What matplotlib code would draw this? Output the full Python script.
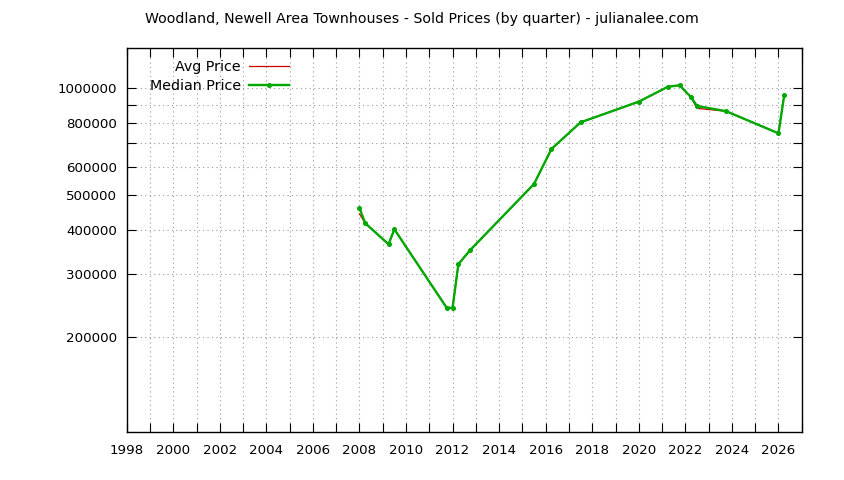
import matplotlib
matplotlib.use("Agg")
import matplotlib.pyplot as plt
from matplotlib.ticker import FixedLocator, NullFormatter, FuncFormatter

# quarterly sold prices
quarters = [2008.0, 2008.25, 2009.25, 2009.5, 2011.75, 2012.0, 2012.25, 2012.75,
            2015.5, 2016.25, 2017.5, 2020.0, 2021.25, 2021.75, 2022.25, 2022.5,
            2023.75, 2026.0, 2026.25]
median_price = [460000, 417000, 364000, 401000, 241000, 241000, 320000, 350000,
                538000, 675000, 802000, 917000, 1010000, 1020000, 943000, 892000,
                862000, 747000, 957000]
avg_price = [443000, 417000, 364000, 401000, 241000, 241000, 320000, 350000,
             538000, 675000, 802000, 917000, 1010000, 1020000, 943000, 878000,
             862000, 747000, 957000]

year_ticks = list(range(1998, 2027, 2))
year_minor = list(range(1999, 2028, 2))
price_ticks = [200000, 300000, 400000, 500000, 600000, 800000, 1000000]
price_minor = [700000, 900000]

title = "Woodland, Newell Area Townhouses - Sold Prices (by quarter) - julianalee.com"

plt.rcParams['font.family'] = ['DejaVu Sans']
plt.rcParams['font.size'] = 9.6

fig = plt.figure(figsize=(8.44, 4.8), dpi=100)
ax = fig.add_axes([0.1501, 0.1006, 0.7998, 0.7988])

ax.plot(quarters, avg_price, color='#cc0000', linewidth=0.9, label='Avg Price', zorder=3)
ax.plot(quarters, median_price, color='#00a800', linewidth=1.7, marker='o',
        markersize=2.6, label='Median Price', zorder=4)

ax.set_yscale('log')
ax.set_xlim(1998, 2027)
ax.set_ylim(108000, 1296000)

ax.xaxis.set_major_locator(FixedLocator(year_ticks))
ax.xaxis.set_minor_locator(FixedLocator(year_minor))
ax.yaxis.set_major_locator(FixedLocator(price_ticks))
ax.yaxis.set_minor_locator(FixedLocator(price_minor))
ax.yaxis.set_major_formatter(FuncFormatter(lambda v, p: "%d" % v))
ax.yaxis.set_minor_formatter(NullFormatter())

ax.tick_params(which='both', direction='in', length=6.5, width=0.8,
               top=True, right=True, colors='black')
ax.tick_params(axis='y', which='both', pad=7)
ax.tick_params(axis='x', which='both', pad=9)

ax.grid(which='both', color='#999999', linestyle=(0, (1, 3)), linewidth=0.8)
for s in ax.spines.values():
    s.set_linewidth(1.0)

ax.legend(loc='upper left', bbox_to_anchor=(0.0345, 0.9695), frameon=False,
          markerfirst=False, borderaxespad=0, borderpad=0, fontsize=10.3,
          handlelength=2.8, handletextpad=0.56, labelspacing=0.35)

fig.text(0.5, 1 - 19 / 480, title, ha='center', va='center', fontsize=10.2)

fig.savefig('out.png', dpi=100)
